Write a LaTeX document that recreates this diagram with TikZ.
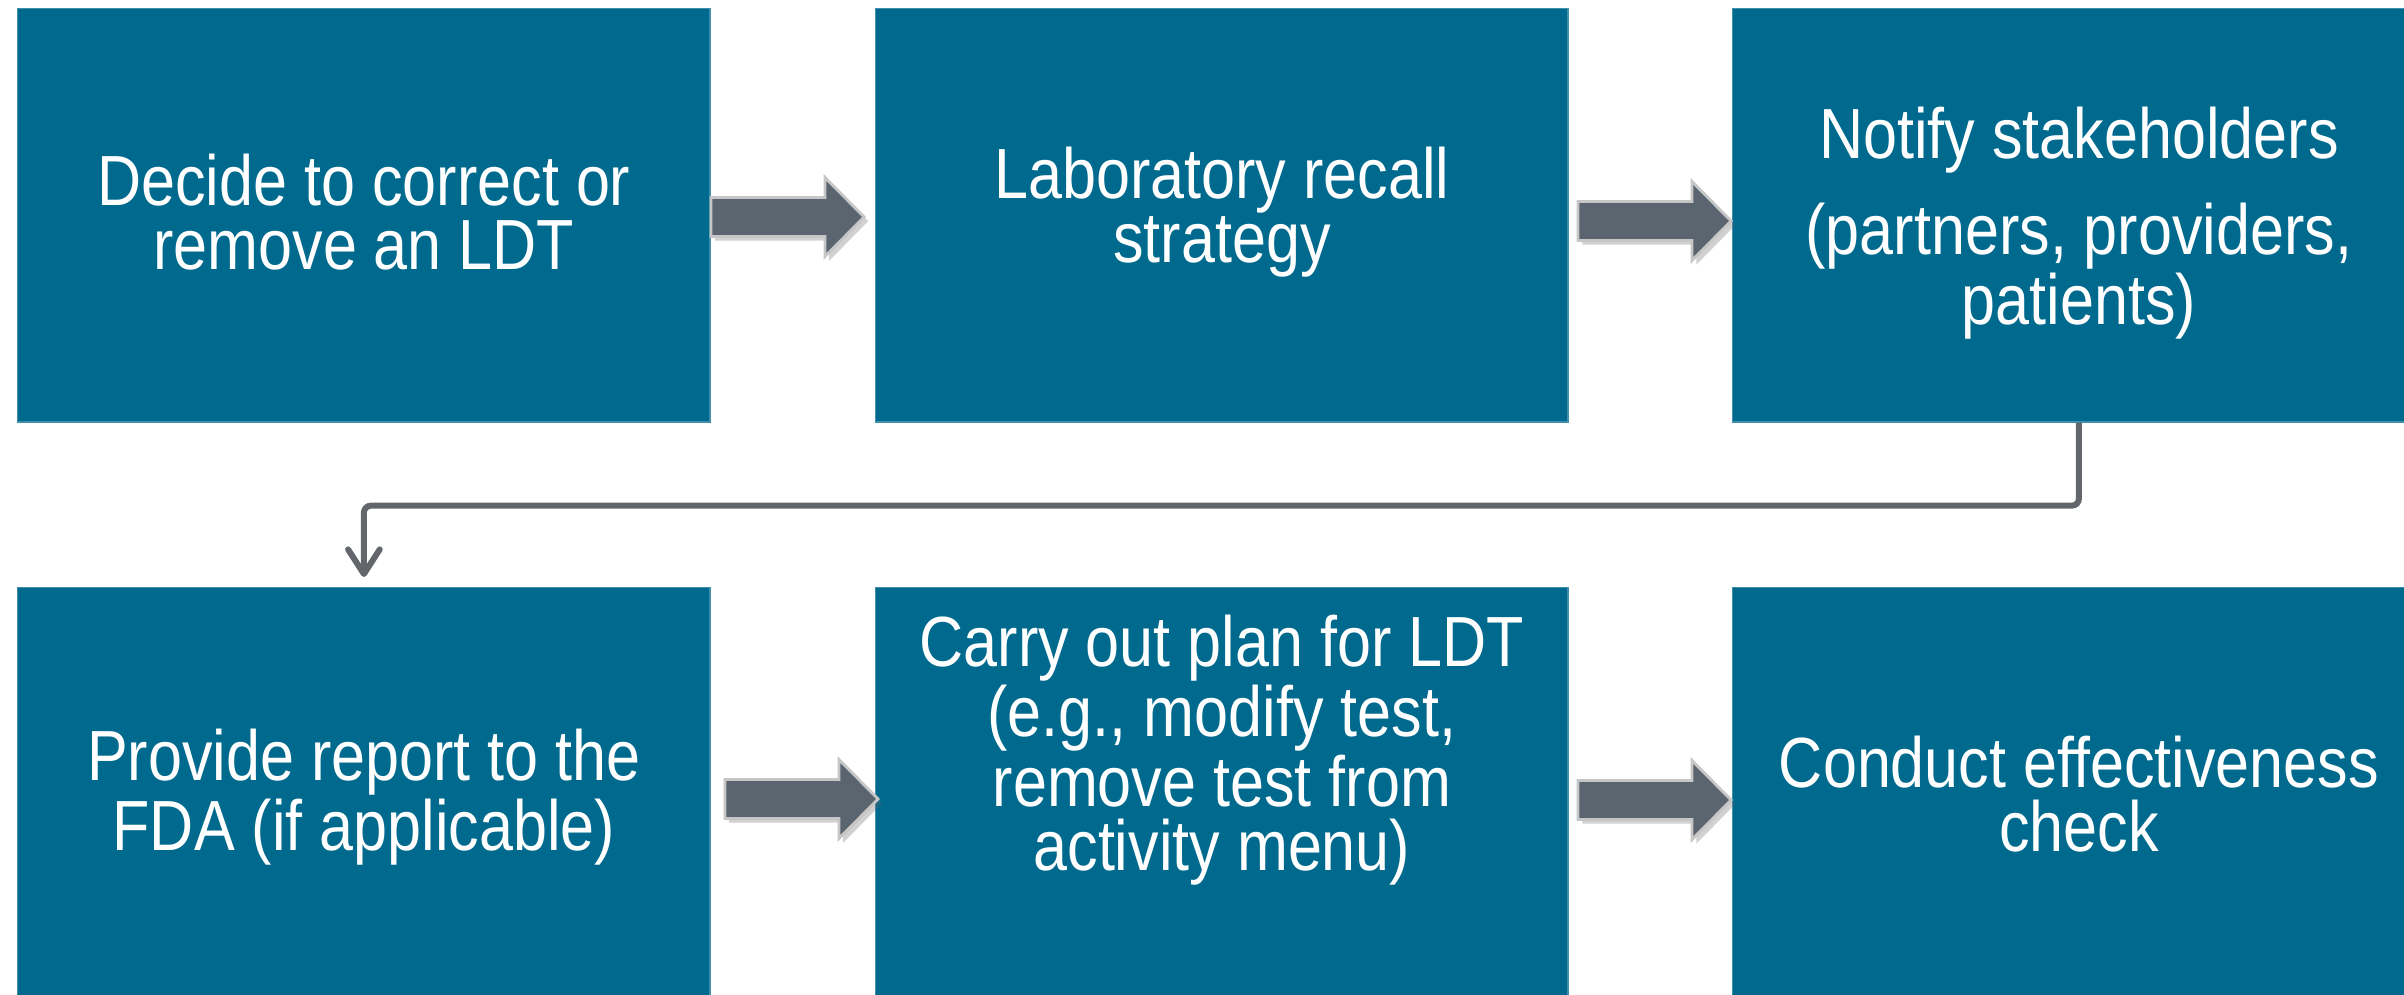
\documentclass[tikz,border=0pt]{standalone}
\usepackage{fontspec}
\setmainfont[FakeStretch=0.86]{Liberation Sans}
\usetikzlibrary{arrows.meta,shadows}
\definecolor{boxteal}{RGB}{0,106,142}
\definecolor{arrowgray}{RGB}{91,101,112}
\definecolor{linegray}{RGB}{99,102,106}
\begin{document}
\begin{tikzpicture}[x=0.01cm,y=-0.01cm,
  stepbox/.style={fill=boxteal, draw=boxteal!75!white, line width=0.4pt,
    minimum width=6.92cm, minimum height=4.13cm, anchor=north west, inner sep=0pt},
  steptext/.style={text=white, align=center, inner sep=0pt,
    font=\fontsize{20.2}{18.3}\selectfont},
  blockarrow/.style={fill=arrowgray, draw=gray!45, line width=0.8pt,
    drop shadow={shadow xshift=1.2pt, shadow yshift=-1.2pt, opacity=0.3, fill=black!60}},
  flow/.style={draw=linegray, line width=1.7pt, rounded corners=2pt,
    -{Straight Barb[length=7pt,width=9pt,line width=1.7pt,round]}},
  pics/blockarr/.style={code={
    \path[blockarrow] (0,-19.5) -- (114,-19.5) -- (114,-39.5) -- (153,0)
      -- (114,39.5) -- (114,19.5) -- (0,19.5) -- cycle;}}
]
\clip (0,0) rectangle (2404,995);

% process boxes, top row
\node[stepbox] (b1) at (17,8) {};
\node[stepbox] (b2) at (875,8) {};
\node[stepbox] (b3) at (1732,8) {};
% process boxes, bottom row
\node[stepbox] (b4) at (17,587) {};
\node[stepbox] (b5) at (875,587) {};
\node[stepbox] (b6) at (1732,587) {};

% box texts
\node[steptext] (t1) at ([yshift=0.03cm]b1.center) {Decide to correct or\\remove an LDT};
\node[steptext] (t2) at ([yshift=0.03cm]b2.center) {Laboratory recall\\strategy};
\node[steptext] (t3) at ([yshift=-0.08cm]b3.center) {Notify stakeholders\\[7.5pt](partners, providers,\\patients)};
\node[steptext] (t4) at ([yshift=-0.03cm]b4.center) {Provide report to the\\FDA (if applicable)};
\node[steptext] (t5) at ([yshift=0.44cm]b5.center) {Carry out plan for LDT\\(e.g., modify test,\\remove test from\\activity menu)};
\node[steptext] (t6) at (b6.center) {Conduct effectiveness\\check};

% block arrows between neighbouring steps
\pic at (711,217) {blockarr};
\pic at (1578,221) {blockarr};
\pic at (725,799) {blockarr};
\pic at (1578,800) {blockarr};

% elbow connector from the top row to the bottom row
\draw[flow] (b3.south) -- ++(0,83) -| ([yshift=0.1cm]b4.north);
\end{tikzpicture}
\end{document}
